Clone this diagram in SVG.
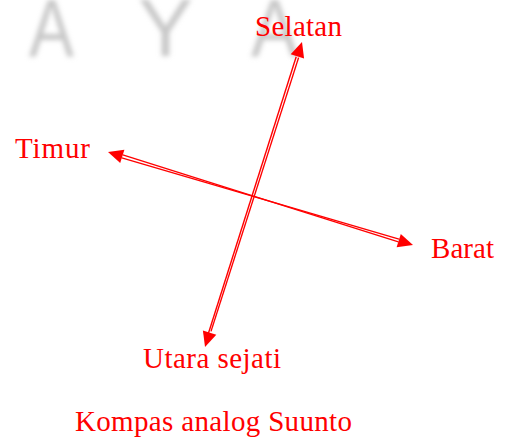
<svg xmlns="http://www.w3.org/2000/svg" width="507" height="438" viewBox="0 0 507 438">
<defs>
<filter id="blur" x="-20%" y="-20%" width="140%" height="140%"><feGaussianBlur stdDeviation="2.6"/></filter>
<style>
.lbl{font-family:"Liberation Serif","Times New Roman",serif;font-size:29px;fill:#ff0000}
.wm{font-family:"Liberation Sans",Arial,sans-serif;font-size:82px;fill:#c8c8c8}
.ln{stroke:#ff0000;stroke-width:1.4;fill:none}
.hd{fill:#ff0000}
</style>
</defs>
<rect width="507" height="438" fill="#ffffff"/>
<g id="watermark" filter="url(#blur)">
<text class="wm" x="29" y="56" textLength="45" lengthAdjust="spacingAndGlyphs">A</text>
<text class="wm" x="138" y="56" textLength="55" lengthAdjust="spacingAndGlyphs">Y</text>
<text class="wm" x="251" y="56" textLength="47" lengthAdjust="spacingAndGlyphs">A</text>
</g>
<g id="connectors">
<line class="ln" x1="298.6" y1="57.6" x2="211" y2="331.4"/>
<line class="ln" x1="296.2" y1="56.8" x2="208.2" y2="334"/>
<polygon class="hd" points="302,42 290.7,54.2 304.1,58.4"/>
<polygon class="hd" points="205,347 216.3,334.8 202.9,330.6"/>
<line class="ln" x1="122.8" y1="154.9" x2="398.4" y2="241.9"/>
<line class="ln" x1="121.8" y1="157.9" x2="399" y2="239.2"/>
<polygon class="hd" points="108,152 124.4,149.7 120.2,163.1"/>
<polygon class="hd" points="413,245 400.8,233.9 396.6,247.3"/>
</g>
<g id="selatan"><text class="lbl" x="255" y="36" textLength="87">Selatan</text></g>
<g id="timur"><text class="lbl" x="15" y="158" textLength="75">Timur</text></g>
<g id="barat"><text class="lbl" x="431" y="258" textLength="63">Barat</text></g>
<g id="utara"><text class="lbl" x="143" y="368" textLength="138">Utara sejati</text></g>
<g id="caption"><text class="lbl" x="75" y="431" textLength="277">Kompas analog Suunto</text></g>
</svg>
